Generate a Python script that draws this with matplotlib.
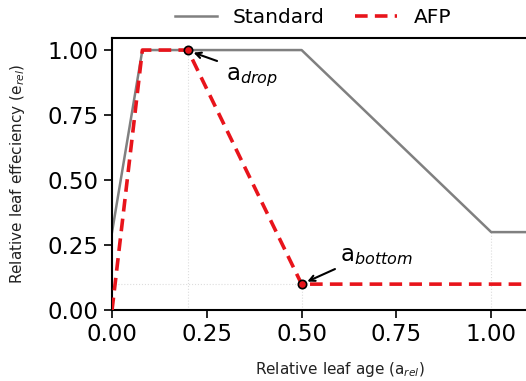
import matplotlib
matplotlib.use("Agg")
import matplotlib.pyplot as plt

std_x = [0.0, 0.08, 0.5, 1.0, 1.2]
std_y = [0.3, 1.0, 1.0, 0.3, 0.3]
afp_x = [0.0, 0.08, 0.2, 0.5, 1.2]
afp_y = [0.0, 1.0, 1.0, 0.1, 0.1]
pts_x = [0.2, 0.5]
pts_y = [1.0, 0.1]
xticks = [0.0, 0.25, 0.5, 0.75, 1.0]
yticks = [0.0, 0.25, 0.5, 0.75, 1.0]

fig = plt.figure(figsize=(5.26, 3.81), dpi=100)
ax = fig.add_axes([0.213, 0.186, 0.865, 0.714])

# guide lines
gcol = '#dddddd'
ax.plot([0.2, 0.2], [0, 1.0], color=gcol, lw=0.8, ls=':', zorder=1)
ax.plot([0.5, 0.5], [0, 0.1], color=gcol, lw=0.8, ls=':', zorder=1)
ax.plot([1.0, 1.0], [0, 0.3], color=gcol, lw=0.8, ls=':', zorder=1)
ax.plot([0, 0.5], [0.1, 0.1], color=gcol, lw=0.8, ls=':', zorder=1)

ax.plot(std_x, std_y, color='gray', lw=1.8, label='Standard', zorder=2)
ax.plot(afp_x, afp_y, color='#e8141b', lw=2.6, ls=(0, (3.5, 2)), label='AFP', zorder=3)
ax.plot(pts_x, pts_y, 'o', color='#e8141b', mec='black', mew=1.2, ms=6, zorder=4)

arrow = dict(arrowstyle='->', color='black', lw=1.5, shrinkA=0, shrinkB=0)
ax.annotate('', xy=(0.215, 0.99), xytext=(0.277, 0.958), arrowprops=arrow)
ax.annotate('', xy=(0.515, 0.11), xytext=(0.588, 0.158), arrowprops=arrow)
ax.text(0.30, 0.885, 'a$_{drop}$', fontsize=16.5)
ax.text(0.60, 0.19, 'a$_{bottom}$', fontsize=16.5)

ax.set_xlim(0, 1.2)
ax.set_ylim(0, 1.046)
ax.set_xticks(xticks)
ax.set_yticks(yticks)
ax.set_xticklabels([f'{v:.2f}' for v in xticks])
ax.set_yticklabels([f'{v:.2f}' for v in yticks])
ax.tick_params(labelsize=16.5, length=6, width=1.2)
for s in ax.spines.values():
    s.set_linewidth(1.5)
ax.set_xlabel('Relative leaf age (a$_{rel}$)', fontsize=11, color='#222222', labelpad=10)
ax.set_ylabel('Relative leaf effeciency (e$_{rel}$)', fontsize=11, color='#222222', labelpad=15)

fig.legend(loc='center', bbox_to_anchor=(0.595, 0.953), ncol=2, frameon=False,
           fontsize=14.5, handlelength=2.1, columnspacing=1.5)

fig.savefig('out.png', dpi=100)
